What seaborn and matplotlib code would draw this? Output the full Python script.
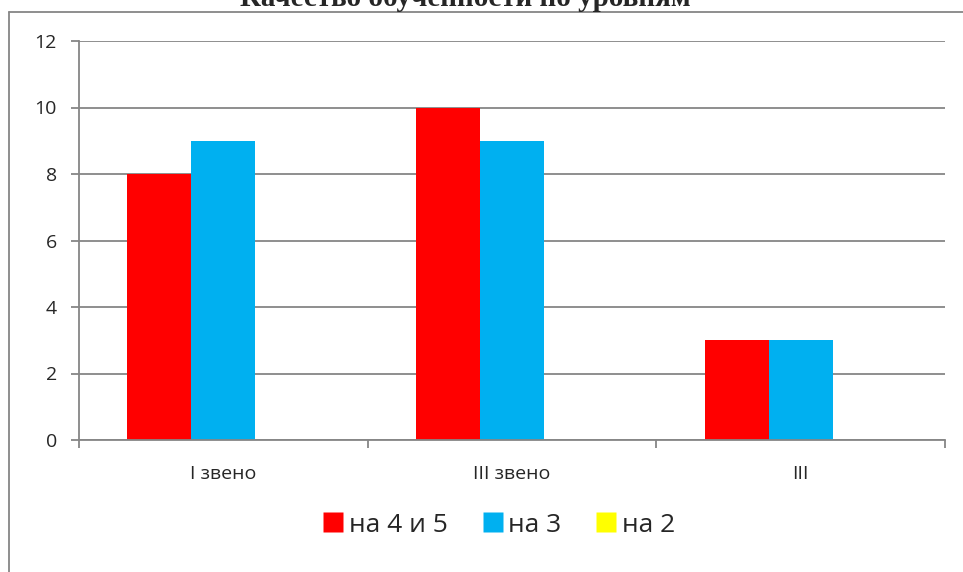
import pandas as pd
import matplotlib.pyplot as plt
import seaborn as sns
from matplotlib.lines import Line2D

# Данные
categories = ['I звено', 'III звено', 'III']
series = ['на 4 и 5', 'на 3', 'на 2']
vals_45 = [8, 10, 3]
vals_3 = [9, 9, 3]
vals_2 = [0, 0, 0]
colors = ['#FF0000', '#00B0F0', '#FFFF00']

df = pd.DataFrame({
    'Уровень': categories * 3,
    'Серия': [s for s in series for _ in categories],
    'Значение': vals_45 + vals_3 + vals_2,
})

sns.set_style('white')
plt.rcParams['font.family'] = ['Open Sans', 'DejaVu Sans']
grey = '#868686'

fig = plt.figure(figsize=(9.63, 5.72), dpi=100)
ax = fig.add_axes([79 / 963, 1 - 440 / 572, (945 - 79) / 963, (440 - 41) / 572])

sns.barplot(data=df, x='Уровень', y='Значение', hue='Серия', palette=colors,
            width=0.664, saturation=1, ax=ax, legend=False, edgecolor='none')

ax.set_ylim(0, 12)
ax.set_xlim(-0.5, 2.5)
ax.set_yticks(range(0, 13, 2))
ax.yaxis.grid(True, color=grey, linewidth=1.3)
ax.set_axisbelow(True)
for s in ['top', 'right']:
    ax.spines[s].set_visible(False)
for s in ['left', 'bottom']:
    ax.spines[s].set_color(grey)
    ax.spines[s].set_linewidth(1.3)

ax.set_xlabel('')
ax.set_ylabel('')
ax.tick_params(axis='y', length=6, color=grey, width=1.3, labelsize=14, pad=10, left=True)
ax.tick_params(axis='x', which='major', length=0, labelsize=14, pad=18)
ax.set_xticks([-0.5, 0.5, 1.5, 2.5], minor=True)
ax.tick_params(axis='x', which='minor', length=6, color=grey, width=1.3, bottom=True)

# Легенда
handles = [Line2D([], [], marker='s', linestyle='none', markersize=15,
                  markerfacecolor=c, markeredgecolor='none') for c in colors]
fig.legend(handles, series, loc='center', bbox_to_anchor=(499 / 963, 1 - 525 / 572),
           ncol=3, frameon=False, fontsize=19, handletextpad=0.2, columnspacing=1.3,
           handlelength=0.8)

# Заголовок (обрезан сверху)
fig.text(0.483, 1 - 6 / 572, 'Качество обученности по уровням', ha='center', va='baseline',
         fontsize=21, fontweight='bold', family=['Liberation Serif', 'DejaVu Serif'])

# Рамка области диаграммы
fig.add_artist(Line2D([9 / 963, 9 / 963], [0, 1 - 12 / 572], color=grey, linewidth=1.3))
fig.add_artist(Line2D([9 / 963, 1], [1 - 12 / 572, 1 - 12 / 572], color=grey, linewidth=1.3))

fig.savefig('out.png', dpi=100, facecolor='white')
